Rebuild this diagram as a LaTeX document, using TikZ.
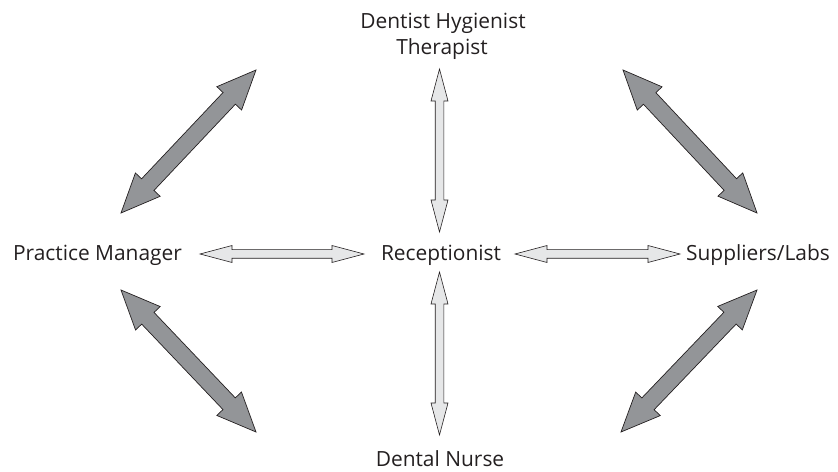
\documentclass[tikz,border=0pt]{standalone}
\usepackage{fontspec}
\setmainfont{Open Sans}
\usetikzlibrary{calc}
\definecolor{darkfill}{HTML}{939598}
\definecolor{lightfill}{HTML}{E6E7E8}
\definecolor{txt}{HTML}{231F20}
\tikzset{
  lbl/.style={font=\fontsize{21}{25.5}\selectfont, text=txt, inner sep=0pt, align=center, anchor=base},
  lightarrow/.style={draw=txt, line width=0.6pt, fill=lightfill, line join=miter},
  darkarrow/.style={draw=txt, line width=0.7pt, fill=darkfill, line join=miter}
}
% #1 style, #2 start, #3 end, #4 head length, #5 head half width, #6 shaft half width
\newcommand\twowayarrow[6]{%
  \path[#1] (#2)
    -- ($(#2)!#4!(#3)!#5!90:(#3)$)
    -- ($(#2)!#4!(#3)!#6!90:(#3)$)
    -- ($(#3)!#4!(#2)!#6!-90:(#2)$)
    -- ($(#3)!#4!(#2)!#5!-90:(#2)$)
    -- (#3)
    -- ($(#3)!#4!(#2)!#5!90:(#2)$)
    -- ($(#3)!#4!(#2)!#6!90:(#2)$)
    -- ($(#2)!#4!(#3)!#6!-90:(#3)$)
    -- ($(#2)!#4!(#3)!#5!-90:(#3)$)
    -- cycle;}
\begin{document}
\begin{tikzpicture}[x=1bp,y=-1bp]
\useasboundingbox (0,0) rectangle (838,472);
% labels
\node[lbl] (top) at (443,28.5) {Dentist Hygienist};
\node[lbl] (top2) at (442,54.5) {Therapist};
\node[lbl] (pm) at (97.5,260.5) {Practice Manager};
\node[lbl] (rec) at (441,260.5) {Receptionist};
\node[lbl] (sup) at (758,260.5) {Suppliers/Labs};
\node[lbl] (dn) at (440,466) {Dental Nurse};
% arrow end points
\coordinate (t1) at (439.5,69);   \coordinate (t2) at (439.5,232);
\coordinate (b1) at (439.5,272);  \coordinate (b2) at (439.5,435);
\coordinate (l1) at (200,254);  \coordinate (l2) at (364,254);
\coordinate (r1) at (515,254);  \coordinate (r2) at (680,254);
\coordinate (tl1) at (121,213); \coordinate (tl2) at (256,70);
\coordinate (tr1) at (623,70);  \coordinate (tr2) at (757,213);
\coordinate (bl1) at (121,290); \coordinate (bl2) at (256,432);
\coordinate (br1) at (757,290); \coordinate (br2) at (621,432);
% light arrows
\twowayarrow{lightarrow}{t1}{t2}{32bp}{8.5bp}{4.3bp}
\twowayarrow{lightarrow}{b1}{b2}{32bp}{8.5bp}{4.3bp}
\twowayarrow{lightarrow}{l1}{l2}{32bp}{8.5bp}{4.3bp}
\twowayarrow{lightarrow}{r1}{r2}{32bp}{8.5bp}{4.3bp}
% dark arrows
\twowayarrow{darkarrow}{tl1}{tl2}{39bp}{17bp}{8.5bp}
\twowayarrow{darkarrow}{tr1}{tr2}{39bp}{17bp}{8.5bp}
\twowayarrow{darkarrow}{bl1}{bl2}{39bp}{17bp}{8.5bp}
\twowayarrow{darkarrow}{br1}{br2}{39bp}{17bp}{8.5bp}
\end{tikzpicture}
\end{document}
